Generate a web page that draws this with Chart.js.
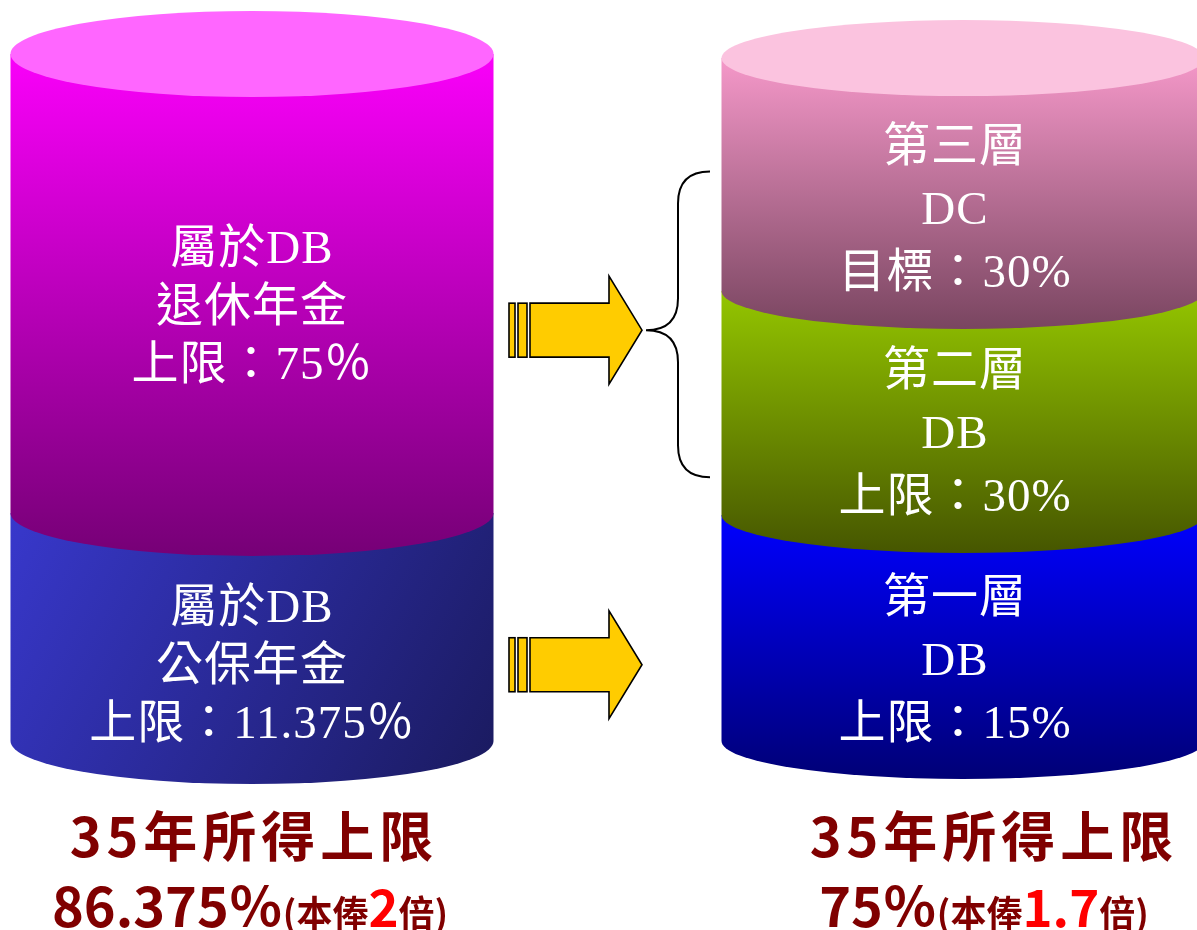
<!DOCTYPE html>
<html>
<head>
<meta charset="utf-8">
<script src="https://cdn.jsdelivr.net/npm/chart.js@4"></script>
<style>
  html, body { margin: 0; padding: 0; background: #fff; }
  canvas { display: block; }
</style>
</head>
<body>
<canvas id="chart" width="1197" height="930"></canvas>
<script>
// two cylinders, drawn band heights (share of cylinder)
const categories = ['現制', '新制'];
const layer1Values = [33.2, 32.9];
const layer2Values = [66.8, 32.6];
const layer3Values = [null, 33.9];

const layer1Text = [['屬於DB', '公保年金', '上限：11.375％'], ['第一層', 'DB', '上限：15%']];
const layer2Text = [['屬於DB', '退休年金', '上限：75％'], ['第二層', 'DB', '上限：30%']];
const layer3Text = [null, ['第三層', 'DC', '目標：30%']];

const captionTitle = ['35年所得上限', '35年所得上限'];
const captionRate = ['86.375％', '75％'];
const captionTimes = ['2', '1.7'];

// styling
const bandColors = [
    [['#3838CC', '#1A1A5E'], ['#0000FF', '#000076']],
    [['#FA00FA', '#760076'], ['#94C600', '#465600']],
    [null, ['#F598C9', '#794560']]
];
const capColors = ['#FF66FF', '#FBC3DF'];
const ellipseRy = [43, 38];
const textShift = [0, -8];
const textOffsetY = [[41, 35], [25, 33], [null, 37]];
const lineStep = [58, 63];
const captionShift = [0, 29];
const captionRateShift = [0, 23];
const DARK_RED = '#800000';
const LABEL_FONT = '"Liberation Serif", "Noto Sans CJK TC", serif';
const CAPTION_FONT = '"Noto Sans CJK TC", "Liberation Sans", sans-serif';

const allText = [layer1Text, layer2Text, layer3Text];

function bandPath(ctx, el, ry) {
    const left = el.x - el.width / 2;
    const right = el.x + el.width / 2;
    ctx.beginPath();
    ctx.moveTo(left, el.y);
    ctx.lineTo(left, el.base);
    ctx.ellipse(el.x, el.base, el.width / 2, ry, 0, Math.PI, 0, true);
    ctx.lineTo(right, el.y);
    ctx.closePath();
}

function bandFill(ctx, el, i, j, ry) {
    const stops = bandColors[i][j];
    let g;
    if (i === 0 && j === 0) {
        g = ctx.createLinearGradient(el.x - el.width / 2, el.y, el.x + el.width / 2, el.base + ry);
    } else {
        g = ctx.createLinearGradient(0, el.y, 0, el.base + ry);
    }
    g.addColorStop(0, stops[0]);
    g.addColorStop(1, stops[1]);
    return g;
}

function drawArrow(ctx, tipX, tipY) {
    const half = 27, headHalf = 54;
    const headBase = tipX - 33;
    ctx.fillStyle = '#FFCC00';
    ctx.strokeStyle = '#000';
    ctx.lineWidth = 1.6;
    [[tipX - 133, 6], [tipX - 124, 9]].forEach(([x, w]) => {
        ctx.fillRect(x, tipY - half, w, half * 2);
        ctx.strokeRect(x, tipY - half, w, half * 2);
    });
    ctx.beginPath();
    ctx.moveTo(tipX - 112, tipY - half);
    ctx.lineTo(headBase, tipY - half);
    ctx.lineTo(headBase, tipY - headHalf);
    ctx.lineTo(tipX, tipY);
    ctx.lineTo(headBase, tipY + headHalf);
    ctx.lineTo(headBase, tipY + half);
    ctx.lineTo(tipX - 112, tipY + half);
    ctx.closePath();
    ctx.fill();
    ctx.stroke();
}

function drawBrace(ctx, tipX, top, mid, bottom) {
    const r = 32;
    const lx = tipX + r;
    ctx.strokeStyle = '#000';
    ctx.lineWidth = 2;
    ctx.beginPath();
    ctx.moveTo(lx + r, top);
    ctx.quadraticCurveTo(lx, top, lx, top + r);
    ctx.lineTo(lx, mid - r);
    ctx.quadraticCurveTo(lx, mid, tipX, mid);
    ctx.quadraticCurveTo(lx, mid, lx, mid + r);
    ctx.lineTo(lx, bottom - r);
    ctx.quadraticCurveTo(lx, bottom, lx + r, bottom);
    ctx.stroke();
}

function drawRateLine(ctx, cx, baseY, j) {
    const parts = [
        { t: captionRate[j], font: `bold 54px ${CAPTION_FONT}`, color: DARK_RED },
        { t: '(本俸', font: `bold 36px ${CAPTION_FONT}`, color: DARK_RED },
        { t: captionTimes[j], font: `bold 51px ${CAPTION_FONT}`, color: '#FF0000' },
        { t: '倍)', font: `bold 36px ${CAPTION_FONT}`, color: DARK_RED }
    ];
    let total = 0;
    parts.forEach(p => { ctx.font = p.font; p.w = ctx.measureText(p.t).width; total += p.w; });
    let x = cx - total / 2;
    ctx.textAlign = 'left';
    ctx.textBaseline = 'alphabetic';
    parts.forEach(p => {
        ctx.font = p.font;
        ctx.fillStyle = p.color;
        ctx.fillText(p.t, x, baseY);
        x += p.w;
    });
}

const cylinderPlugin = {
    id: 'cylinders',
    afterDatasetsDraw(chart) {
        const ctx = chart.ctx;
        const yScale = chart.scales.y;
        ctx.save();

        categories.forEach((c, j) => {
            const ry = ellipseRy[j];
            let topEl = null;
            const drawn = [];
            chart.data.datasets.forEach((ds, i) => {
                if (ds.data[j] == null) return;
                const el = chart.getDatasetMeta(i).data[j];
                bandPath(ctx, el, ry);
                ctx.fillStyle = bandFill(ctx, el, i, j, ry);
                ctx.fill();
                topEl = el;
                drawn.push({ el, i });
            });

            // cap on top of the stack
            if (topEl) {
                ctx.beginPath();
                ctx.ellipse(topEl.x, topEl.y, topEl.width / 2, ry, 0, 0, Math.PI * 2);
                ctx.fillStyle = capColors[j];
                ctx.fill();
            }

            // band labels
            ctx.fillStyle = '#fff';
            ctx.textAlign = 'center';
            ctx.textBaseline = 'middle';
            ctx.font = `47px ${LABEL_FONT}`;
            ctx.letterSpacing = '1px';
            drawn.forEach(({ el, i }) => {
                const lines = allText[i][j];
                if (!lines) return;
                const cy = (el.y + el.base) / 2 + textOffsetY[i][j];
                lines.forEach((line, k) => {
                    ctx.fillText(line, el.x + textShift[j], cy + (k - 1) * lineStep[j]);
                });
            });
            ctx.letterSpacing = '0px';

            // captions under each cylinder
            const x = chart.getDatasetMeta(0).data[j].x;
            ctx.font = `bold 54px ${CAPTION_FONT}`;
            ctx.fillStyle = DARK_RED;
            ctx.textAlign = 'center';
            ctx.textBaseline = 'middle';
            ctx.letterSpacing = '5px';
            ctx.fillText(captionTitle[j], x + captionShift[j] + 2, yScale.bottom + 95);
            ctx.letterSpacing = '0px';
            drawRateLine(ctx, x + captionRateShift[j] - 2, yScale.bottom + 186, j);
        });

        // arrows and brace between the cylinders
        const tipX = 642;
        drawArrow(ctx, tipX, yScale.getPixelForValue(59.8));
        drawArrow(ctx, tipX, yScale.getPixelForValue(11.1));
        drawBrace(ctx, tipX + 4, yScale.getPixelForValue(82.9), yScale.getPixelForValue(59.8), yScale.getPixelForValue(38.4));

        ctx.restore();
    }
};

const ctx = document.getElementById('chart').getContext('2d');
new Chart(ctx, {
    type: 'bar',
    data: {
        labels: categories,
        datasets: [
            { label: 'layer1', data: layer1Values, backgroundColor: 'rgba(0,0,0,0)' },
            { label: 'layer2', data: layer2Values, backgroundColor: 'rgba(0,0,0,0)' },
            { label: 'layer3', data: layer3Values, backgroundColor: 'rgba(0,0,0,0)' }
        ]
    },
    options: {
        responsive: false,
        animation: false,
        devicePixelRatio: 1,
        layout: { padding: { left: 252, right: 234, top: 54, bottom: 189 } },
        datasets: { bar: { barThickness: 483, borderWidth: 0 } },
        plugins: { legend: { display: false }, tooltip: { enabled: false } },
        scales: {
            x: { stacked: true, offset: false, display: false },
            y: { stacked: true, min: 0, max: 100, display: false }
        }
    },
    plugins: [cylinderPlugin]
});
</script>
</body>
</html>
